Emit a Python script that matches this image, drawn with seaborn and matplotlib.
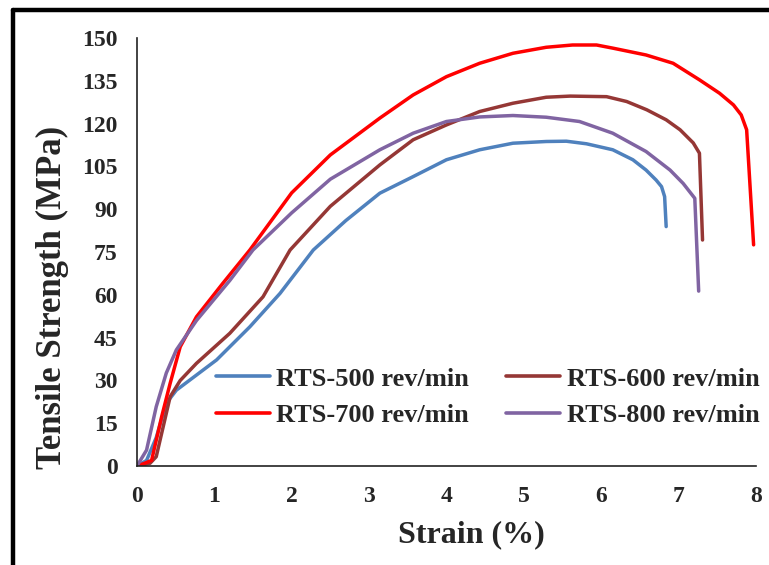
import numpy as np
import pandas as pd
import matplotlib
matplotlib.use("Agg")
import matplotlib.pyplot as plt
from matplotlib.lines import Line2D
import seaborn as sns

# Stress-strain curves for each rotational speed
strain_500 = [0.0, 0.125, 0.25, 0.38, 0.51, 0.77, 1.03, 1.46, 1.85, 2.28, 2.7, 3.14, 3.57, 4.0, 4.43, 4.86, 5.29, 5.55, 5.81, 6.15, 6.41, 6.58, 6.71, 6.78, 6.82, 6.84]
stress_500 = [0.0, 2.0, 10.0, 22.0, 26.6, 31.9, 37.2, 48.8, 60.5, 75.7, 86.0, 95.6, 101.4, 107.3, 110.8, 113.1, 113.7, 113.8, 112.9, 110.8, 107.3, 103.7, 100.2, 97.9, 94.4, 83.9]

strain_600 = [0.0, 0.17, 0.25, 0.34, 0.43, 0.56, 0.77, 1.2, 1.63, 1.98, 2.5, 3.14, 3.57, 4.0, 4.43, 4.86, 5.29, 5.6, 6.07, 6.33, 6.59, 6.84, 7.02, 7.19, 7.27, 7.31]
stress_600 = [0.0, 1.0, 3.3, 13.8, 24.3, 30.0, 36.0, 46.5, 59.3, 75.7, 91.0, 105.5, 114.3, 119.5, 124.2, 127.1, 129.2, 129.6, 129.4, 127.7, 124.8, 121.3, 117.8, 113.2, 109.6, 79.2]

strain_700 = [0.0, 0.1, 0.19, 0.32, 0.43, 0.56, 0.77, 1.11, 1.46, 2.0, 2.5, 3.14, 3.57, 4.0, 4.43, 4.86, 5.29, 5.63, 5.94, 6.15, 6.58, 6.93, 7.27, 7.53, 7.71, 7.81, 7.88, 7.97]
stress_700 = [0.0, 1.0, 2.0, 17.3, 29.0, 41.8, 52.3, 64.0, 75.7, 95.7, 109.0, 121.9, 130.0, 136.4, 141.1, 144.6, 146.7, 147.5, 147.5, 146.4, 144.0, 141.1, 135.3, 130.6, 126.5, 123.0, 117.8, 77.5]

strain_800 = [0.0, 0.125, 0.25, 0.38, 0.51, 0.77, 1.2, 1.5, 2.0, 2.5, 3.14, 3.57, 4.0, 4.43, 4.86, 5.29, 5.72, 6.15, 6.58, 6.89, 7.06, 7.21, 7.26]
stress_800 = [0.0, 5.6, 20.8, 32.6, 40.7, 51.0, 65.0, 75.7, 88.7, 100.5, 110.8, 116.6, 120.7, 122.3, 122.8, 122.2, 120.7, 116.6, 110.2, 103.7, 99.0, 93.8, 61.3]

labels = ["RTS-500 rev/min", "RTS-600 rev/min", "RTS-700 rev/min", "RTS-800 rev/min"]
colors = ["#4F81BD", "#953735", "#FF0000", "#8064A2"]
x_ticks = [0, 1, 2, 3, 4, 5, 6, 7, 8]
y_ticks = [0, 15, 30, 45, 60, 75, 90, 105, 120, 135, 150]

frames = []
for lab, xs, ys in zip(labels,
                       [strain_500, strain_600, strain_700, strain_800],
                       [stress_500, stress_600, stress_700, stress_800]):
    frames.append(pd.DataFrame({"Strain": xs, "Stress": ys, "Sample": lab}))
df = pd.concat(frames, ignore_index=True)

sns.set_theme(style="white")
plt.rcParams["font.family"] = ["Liberation Serif", "DejaVu Serif"]
plt.rcParams["font.weight"] = "bold"

fig = plt.figure(figsize=(7.69, 5.65), dpi=100)
ax = fig.add_axes([0.178, 0.175, 0.805, 0.758])

sns.lineplot(data=df, x="Strain", y="Stress", hue="Sample", hue_order=labels,
             palette=colors, sort=False, estimator=None, linewidth=2.5, ax=ax)

ax.set_xlim(0, 8)
ax.set_ylim(0, 150)
ax.set_xticks(x_ticks)
ax.set_yticks(y_ticks)
ax.tick_params(axis="both", length=0, pad=14, labelsize=17)
for t in ax.get_xticklabels() + ax.get_yticklabels():
    t.set_fontweight("bold")

ax.set_xlabel("Strain (%)", fontsize=23, fontweight="bold")
ax.xaxis.set_label_coords(0.541, -0.126)
ax.set_ylabel("Tensile Strength (MPa)", fontsize=25, fontweight="bold")
ax.yaxis.set_label_coords(-0.110, 0.395)

for side in ["top", "right"]:
    ax.spines[side].set_visible(False)
for side in ["left", "bottom"]:
    ax.spines[side].set_color("#222222")
    ax.spines[side].set_linewidth(1.2)

# Legend rows: 500 / 600 on top, 700 / 800 below
handles, texts = ax.get_legend_handles_labels()
order = [0, 2, 1, 3]
leg = ax.legend([handles[i] for i in order], [texts[i] for i in order],
                ncol=2, loc="lower right", bbox_to_anchor=(1.023, 0.066),
                borderaxespad=0, frameon=False,
                prop={"weight": "bold", "size": 19},
                handlelength=2.05, handletextpad=0.25, columnspacing=1.4,
                labelspacing=0.5)
for h in leg.get_lines():
    h.set_linewidth(2.6)

# Outer frame on the left and top edges
fig.add_artist(Line2D([0.017, 0.017], [0.0, 0.982], transform=fig.transFigure,
                      color="black", linewidth=3.2))
fig.add_artist(Line2D([0.017, 1.0], [0.982, 0.982], transform=fig.transFigure,
                      color="black", linewidth=3.2))

fig.savefig("out.png", dpi=100)
